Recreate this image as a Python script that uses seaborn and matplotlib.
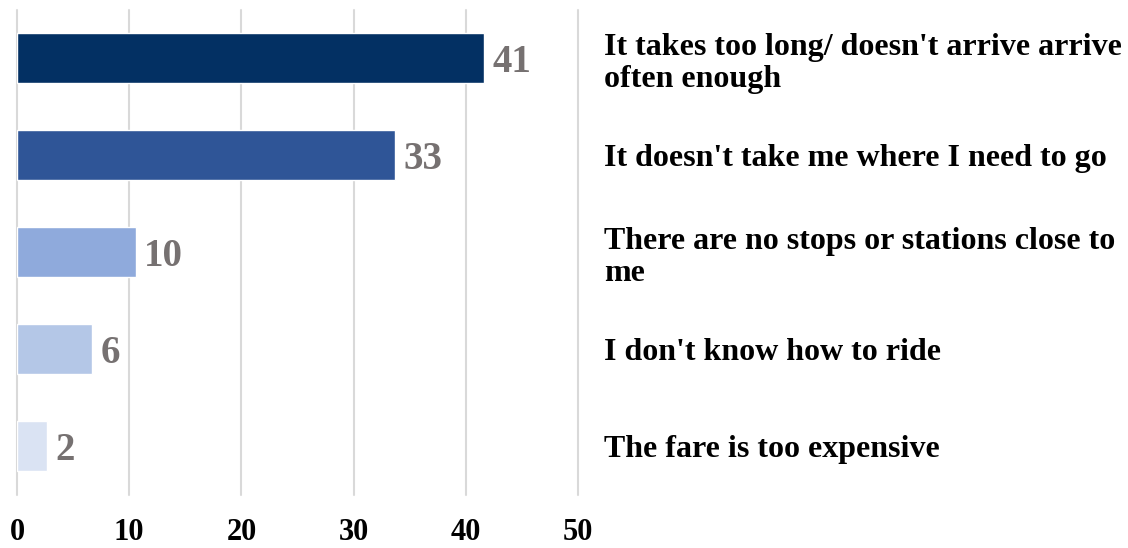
import matplotlib
matplotlib.use("Agg")
import matplotlib.pyplot as plt
import seaborn as sns
import pandas as pd

# data
reasons = [
    "It takes too long/ doesn't arrive arrive\noften enough",
    "It doesn't take me where I need to go",
    "There are no stops or stations close to\nme",
    "I don't know how to ride",
    "The fare is too expensive",
]
shares = [41.6, 33.7, 10.6, 6.7, 2.7]
share_labels = ["41", "33", "10", "6", "2"]
bar_colors = ["#033063", "#2F5597", "#8FAADC", "#B4C7E7", "#DAE3F3"]
x_ticks = [0, 10, 20, 30, 40, 50]

df = pd.DataFrame({"reason": reasons, "share": shares})

sns.set_style("white")
plt.rcParams["font.family"] = ["Liberation Serif", "DejaVu Serif"]
plt.rcParams["font.weight"] = "bold"
plt.rcParams["text.color"] = "black"
plt.rcParams["xtick.color"] = "black"
plt.rcParams["ytick.color"] = "black"

fig = plt.figure(figsize=(11.28, 5.48), dpi=100)
ax = fig.add_axes([17 / 1128, 1 - 494.5 / 548, (578 - 17) / 1128, 485 / 548])

sns.barplot(data=df, x="share", y="reason", hue="reason", palette=bar_colors,
            orient="h", width=0.515, legend=False, ax=ax, saturation=1)

ax.set_xlim(0, 50)
ax.set_ylim(4.5, -0.5)
ax.set_xticks(x_ticks)
ax.set_xticklabels([str(t) for t in x_ticks], fontsize=22, fontweight="bold")
ax.tick_params(axis="x", length=0, pad=17, labelcolor="black")
ax.xaxis.grid(True, color="#D9D9D9", linewidth=1.5)
ax.set_axisbelow(True)
# keep the edge gridlines (0 and 50) at full width
for gl in ax.get_xgridlines():
    gl.set_clip_on(False)

# category labels on the right side
ax.yaxis.tick_right()
ax.tick_params(axis="y", length=0, pad=19, labelcolor="black")
for lab in ax.get_yticklabels():
    lab.set_fontsize(23)
    lab.set_fontweight("bold")
    lab.set_horizontalalignment("left")
    lab.set_linespacing(1.18)

ax.set_xlabel("")
ax.set_ylabel("")
for s in ax.spines.values():
    s.set_visible(False)

# value labels next to bars
for i, (v, t) in enumerate(zip(shares, share_labels)):
    ax.annotate(t, (v, i), xytext=(6, -3), textcoords="offset points",
                va="center", ha="left", fontsize=28, fontweight="bold",
                color="#767171")

fig.savefig("out.png", dpi=100)
